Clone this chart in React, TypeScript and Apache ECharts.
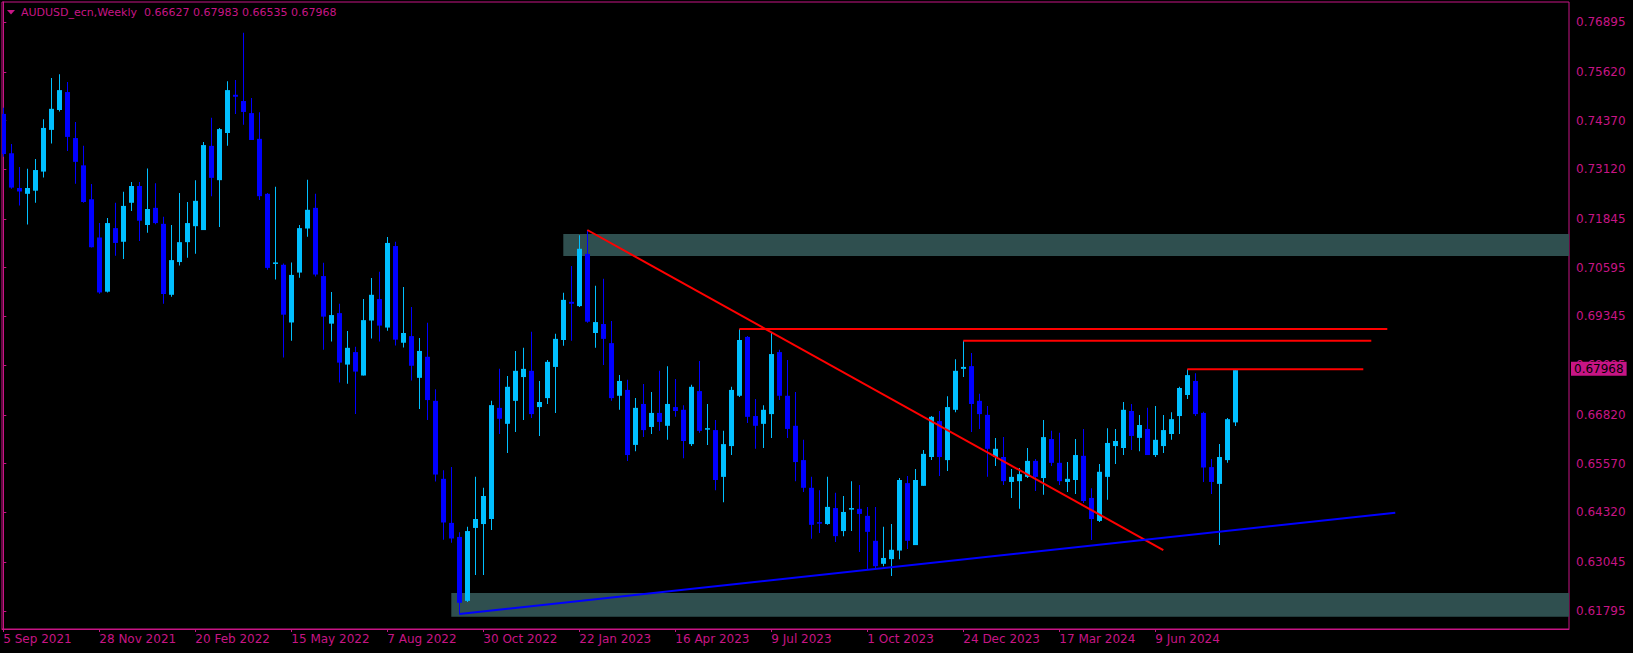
import React, { useEffect, useRef } from "react";
import * as echarts from "echarts";

// ---- data (weekly candles, first bar = 5 Sep 2021) ----
const OPEN = [
  0.7454, 0.7353, 0.7264, 0.7249, 0.7257, 0.7306, 0.7413, 0.7464, 0.7510, 0.7392,
  0.7322, 0.7235, 0.7137, 0.6998, 0.7161, 0.7126, 0.7226, 0.7269, 0.7169, 0.7213,
  0.7172, 0.6990, 0.7074, 0.7125, 0.7166, 0.7156, 0.7372, 0.7284, 0.7405, 0.7503,
  0.7487, 0.7456, 0.7390, 0.7249, 0.7070, 0.7067, 0.6919, 0.7047, 0.7160, 0.7213,
  0.7038, 0.6916, 0.6943, 0.6811, 0.6843, 0.6783, 0.6924, 0.6979, 0.6906, 0.7115,
  0.6867, 0.6884, 0.6777, 0.6831, 0.6718, 0.6518, 0.6405, 0.6369, 0.6205, 0.6392,
  0.6402, 0.6415, 0.6700, 0.6659, 0.6718, 0.6779, 0.6795, 0.6702, 0.6725, 0.6805,
  0.6874, 0.6972, 0.6961, 0.7095, 0.6892, 0.6915, 0.6866, 0.6731, 0.6746, 0.6605,
  0.6710, 0.6651, 0.6687, 0.6654, 0.6702, 0.6695, 0.6607, 0.6743, 0.6644, 0.6643,
  0.6523, 0.6602, 0.6731, 0.6882, 0.6679, 0.6659, 0.6684, 0.6843, 0.6731, 0.6654,
  0.6566, 0.6495, 0.6407, 0.6402, 0.6443, 0.6384, 0.6439, 0.6441, 0.6423, 0.6359,
  0.6300, 0.6312, 0.6334, 0.6507, 0.6348, 0.6500, 0.6574, 0.6666, 0.6566, 0.6695,
  0.6800, 0.6807, 0.6718, 0.6682, 0.6574, 0.6574, 0.6510, 0.6512, 0.6523, 0.6564,
  0.6520, 0.6620, 0.6559, 0.6510, 0.6515, 0.6577, 0.6469, 0.6410, 0.6523, 0.6602,
  0.6597, 0.6692, 0.6623, 0.6646, 0.6579, 0.6602, 0.6633, 0.6679, 0.6733, 0.6769,
  0.6687, 0.6548, 0.6505, 0.6566, 0.66627,
];
const HIGH = [
  0.7470, 0.7377, 0.7318, 0.7313, 0.7338, 0.7440, 0.7546, 0.7556, 0.7536, 0.7433,
  0.7372, 0.7274, 0.7174, 0.7187, 0.7226, 0.7254, 0.7279, 0.7279, 0.7314, 0.7276,
  0.7190, 0.7169, 0.7251, 0.7228, 0.7284, 0.7382, 0.7444, 0.7418, 0.7538, 0.7541,
  0.7662, 0.7495, 0.7458, 0.7251, 0.7267, 0.7070, 0.7073, 0.7169, 0.7285, 0.7249,
  0.7072, 0.6997, 0.6967, 0.6897, 0.6857, 0.6979, 0.7033, 0.7049, 0.7138, 0.7126,
  0.7010, 0.6959, 0.6879, 0.6918, 0.6748, 0.6540, 0.6548, 0.6381, 0.6395, 0.6523,
  0.6495, 0.6718, 0.6800, 0.6782, 0.6846, 0.6854, 0.6895, 0.6769, 0.6823, 0.6890,
  0.6995, 0.7064, 0.7143, 0.7156, 0.7013, 0.7031, 0.6923, 0.6784, 0.6772, 0.6725,
  0.6761, 0.6741, 0.6795, 0.6807, 0.6774, 0.6707, 0.6759, 0.6820, 0.6710, 0.6669,
  0.6641, 0.6754, 0.6902, 0.6884, 0.6723, 0.6707, 0.6892, 0.6849, 0.6823, 0.6741,
  0.6618, 0.6523, 0.6489, 0.6523, 0.6482, 0.6474, 0.6512, 0.6502, 0.6446, 0.6446,
  0.6395, 0.6402, 0.6520, 0.6525, 0.6543, 0.6592, 0.6679, 0.6692, 0.6730, 0.6825,
  0.6872, 0.6841, 0.6736, 0.6705, 0.6623, 0.6625, 0.6543, 0.6546, 0.6597, 0.6569,
  0.6669, 0.6641, 0.6636, 0.6561, 0.6620, 0.6646, 0.6494, 0.6556, 0.6648, 0.6646,
  0.6715, 0.6710, 0.6682, 0.6700, 0.6705, 0.6682, 0.6689, 0.6754, 0.6799, 0.6789,
  0.6690, 0.6569, 0.6607, 0.6674, 0.67983,
];
const LOW = [
  0.7344, 0.7262, 0.7219, 0.7170, 0.7226, 0.7291, 0.7378, 0.7460, 0.7359, 0.7275,
  0.7226, 0.7111, 0.6993, 0.6996, 0.7090, 0.7082, 0.7205, 0.7128, 0.7149, 0.7171,
  0.6967, 0.6985, 0.7065, 0.7085, 0.7095, 0.7156, 0.7243, 0.7164, 0.7372, 0.7454,
  0.7426, 0.7387, 0.7233, 0.7054, 0.7029, 0.6829, 0.6872, 0.7034, 0.7139, 0.7037,
  0.6849, 0.6870, 0.6765, 0.6762, 0.6684, 0.6783, 0.6878, 0.6870, 0.6898, 0.6860,
  0.6855, 0.6770, 0.6697, 0.6669, 0.6511, 0.6362, 0.6354, 0.6171, 0.6202, 0.6271,
  0.6271, 0.6387, 0.6633, 0.6584, 0.6638, 0.6669, 0.6674, 0.6628, 0.6710, 0.6687,
  0.6859, 0.6872, 0.6959, 0.6918, 0.6854, 0.6810, 0.6718, 0.6695, 0.6564, 0.6589,
  0.6625, 0.6633, 0.6641, 0.6618, 0.6677, 0.6571, 0.6602, 0.6636, 0.6605, 0.6489,
  0.6458, 0.6579, 0.6728, 0.6661, 0.6595, 0.6597, 0.6623, 0.6720, 0.6623, 0.6512,
  0.6484, 0.6364, 0.6379, 0.6400, 0.6356, 0.6371, 0.6384, 0.6330, 0.6284, 0.6288,
  0.6294, 0.6269, 0.6312, 0.6338, 0.6348, 0.6500, 0.6566, 0.6525, 0.6538, 0.6689,
  0.6779, 0.6638, 0.6646, 0.6523, 0.6551, 0.6502, 0.6469, 0.6441, 0.6520, 0.6487,
  0.6477, 0.6551, 0.6502, 0.6484, 0.6479, 0.6456, 0.6361, 0.6407, 0.6464, 0.6556,
  0.6579, 0.6592, 0.6589, 0.6579, 0.6574, 0.6584, 0.6618, 0.6633, 0.6723, 0.6679,
  0.6510, 0.6479, 0.6348, 0.6559, 0.66535,
];
const CLOSE = [
  0.7351, 0.7265, 0.7255, 0.7264, 0.7310, 0.7418, 0.7467, 0.7515, 0.7395, 0.7331,
  0.7228, 0.7112, 0.6996, 0.7174, 0.7123, 0.7218, 0.7269, 0.7180, 0.7210, 0.7174,
  0.6992, 0.7079, 0.7125, 0.7174, 0.7231, 0.7374, 0.7290, 0.7415, 0.7515, 0.7498,
  0.7459, 0.7387, 0.7243, 0.7059, 0.7073, 0.6939, 0.7041, 0.7161, 0.7208, 0.7042,
  0.6934, 0.6938, 0.6816, 0.6854, 0.6793, 0.6925, 0.6990, 0.6911, 0.7123, 0.6875,
  0.6892, 0.6808, 0.6846, 0.6720, 0.6529, 0.6406, 0.6365, 0.6200, 0.6384, 0.6415,
  0.6474, 0.6707, 0.6672, 0.6754, 0.6795, 0.6800, 0.6684, 0.6715, 0.6818, 0.6877,
  0.6977, 0.6967, 0.7108, 0.6921, 0.6920, 0.6877, 0.6725, 0.6769, 0.6579, 0.6700,
  0.6643, 0.6687, 0.6664, 0.6710, 0.6692, 0.6615, 0.6754, 0.6641, 0.6648, 0.6515,
  0.6607, 0.6746, 0.6874, 0.6677, 0.6654, 0.6695, 0.6838, 0.6731, 0.6646, 0.6561,
  0.6495, 0.6400, 0.6403, 0.6446, 0.6371, 0.6433, 0.6443, 0.6428, 0.6382, 0.6294,
  0.6315, 0.6336, 0.6515, 0.6359, 0.6515, 0.6582, 0.6677, 0.6574, 0.6702, 0.6795,
  0.6805, 0.6710, 0.6684, 0.6595, 0.6595, 0.6512, 0.6523, 0.6530, 0.6564, 0.6523,
  0.6625, 0.6559, 0.6512, 0.6518, 0.6579, 0.6461, 0.6415, 0.6536, 0.6610, 0.6615,
  0.6695, 0.6628, 0.6656, 0.6579, 0.6618, 0.6643, 0.6671, 0.6751, 0.6784, 0.6684,
  0.6547, 0.6510, 0.6574, 0.6671, 0.67968,
];

// x-axis tick labels: every 12th weekly bar
const X_TICKS = [0, 12, 24, 36, 48, 60, 72, 84, 96, 108, 120, 132, 144];
const X_LABELS = [
  "5 Sep 2021", "28 Nov 2021", "20 Feb 2022", "15 May 2022", "7 Aug 2022",
  "30 Oct 2022", "22 Jan 2023", "16 Apr 2023", "9 Jul 2023", "1 Oct 2023",
  "24 Dec 2023", "17 Mar 2024", "9 Jun 2024",
];
// y-axis price labels
const Y_TICKS = [
  0.61795, 0.63045, 0.6432, 0.6557, 0.6682, 0.68095, 0.69345, 0.70595,
  0.71845, 0.7312, 0.7437, 0.7562, 0.76895,
];

// zones: [startBar, top price, bottom price]
const ZONE_START = [70, 56];
const ZONE_TOP = [0.7146, 0.62252];
const ZONE_BOTTOM = [0.70895, 0.61644];

// trend lines: [bar1, price1, bar2, price2]
const RED_TREND = [73, 0.71562, 145, 0.63354];
const BLUE_TREND = [57, 0.6171, 174, 0.6431];
// horizontal resistance lines: [startBar, endBar, price]
const H_START = [92, 120, 148];
const H_END = [173, 171, 170];
const H_PRICE = [0.69023, 0.68723, 0.6799];

const SYMBOL = "AUDUSD_ecn,Weekly";

const PINK = "#C71585";
const BULL = "#00BFFF";
const BEAR = "#0000FF";
const ZONE = "#2F4F4F";
const FONT = "DejaVu Sans";

const XMIN = -0.1625;
const XMAX = XMIN + 1567 / 8;
const YMIN = 0.61328;
const YMAX = 0.7741;

export default function App() {
  const ref = useRef<HTMLDivElement>(null);

  useEffect(() => {
    if (!ref.current) return;
    const chart = echarts.init(ref.current, undefined, { renderer: "svg" });

    const candles = OPEN.map((o, i) => [i, o, CLOSE[i], LOW[i], HIGH[i]]);
    const zones = ZONE_START.map((s, k) => [s, XMAX, ZONE_TOP[k], ZONE_BOTTOM[k]]);
    const last = OPEN.length - 1;
    const title = `${SYMBOL}  ${OPEN[last].toFixed(5)} ${HIGH[last].toFixed(5)} ${LOW[last].toFixed(5)} ${CLOSE[last].toFixed(5)}`;

    const lineSeries = (data: number[][], color: string) => ({
      type: "line",
      data,
      symbol: "none",
      silent: true,
      z: 5,
      lineStyle: { color, width: 2 },
    });

    const option: any = {
      animation: false,
      backgroundColor: "#000000",
      grid: {
        left: 2,
        right: 64,
        top: 2,
        bottom: 24,
        show: true,
        borderColor: PINK,
        borderWidth: 1,
        backgroundColor: "#000000",
      },
      xAxis: {
        type: "value",
        min: XMIN,
        max: XMAX,
        axisLine: { show: true, lineStyle: { color: PINK, width: 1 } },
        axisTick: {
          show: true,
          customValues: X_TICKS,
          length: 3,
          lineStyle: { color: PINK },
        },
        axisLabel: {
          customValues: X_TICKS,
          formatter: (v: number) => X_LABELS[X_TICKS.indexOf(Math.round(v))] ?? "",
          color: PINK,
          fontFamily: FONT,
          fontSize: 12,
          align: "left",
          margin: 4,
        },
        splitLine: { show: false },
      },
      yAxis: {
        type: "value",
        position: "right",
        min: YMIN,
        max: YMAX,
        axisLine: { show: true, lineStyle: { color: PINK, width: 1 } },
        axisTick: {
          show: true,
          customValues: Y_TICKS,
          length: 3,
          lineStyle: { color: PINK },
        },
        axisLabel: {
          customValues: Y_TICKS,
          formatter: (v: number) => v.toFixed(5),
          color: PINK,
          fontFamily: FONT,
          fontSize: 12,
          margin: 7,
        },
        splitLine: { show: false },
      },
      series: [
        {
          type: "custom",
          name: "zones",
          z: 1,
          silent: true,
          data: zones,
          encode: { x: [0, 1], y: [2, 3] },
          renderItem: (_p: any, api: any) => {
            const a = api.coord([api.value(0), api.value(2)]);
            const b = api.coord([api.value(1), api.value(3)]);
            return {
              type: "rect",
              shape: { x: a[0], y: a[1], width: b[0] - a[0], height: b[1] - a[1] },
              style: { fill: ZONE },
            };
          },
        },
        {
          type: "custom",
          name: "candles",
          z: 3,
          silent: true,
          clip: true,
          data: candles,
          encode: { x: 0, y: [1, 2, 3, 4] },
          renderItem: (_p: any, api: any) => {
            const i = api.value(0);
            const o = api.value(1);
            const c = api.value(2);
            const l = api.value(3);
            const h = api.value(4);
            const pO = api.coord([i, o]);
            const yC = api.coord([i, c])[1];
            const yL = api.coord([i, l])[1];
            const yH = api.coord([i, h])[1];
            const color = c >= o ? BULL : BEAR;
            const cx = Math.round(pO[0]);
            const top = Math.min(pO[1], yC);
            let bh = Math.abs(pO[1] - yC);
            if (bh < 1.5) bh = 1.5;
            return {
              type: "group",
              children: [
                {
                  type: "rect",
                  shape: { x: cx, y: yH, width: 1, height: Math.max(1, yL - yH) },
                  style: { fill: color },
                },
                {
                  type: "rect",
                  shape: { x: cx - 2, y: top, width: 5, height: bh },
                  style: { fill: color },
                },
              ],
            };
          },
          markLine: {
            silent: true,
            symbol: "none",
            lineStyle: { color: "transparent", width: 0 },
            data: [{ yAxis: CLOSE[last] }],
            label: {
              show: true,
              position: "end",
              distance: 2,
              formatter: CLOSE[last].toFixed(5),
              backgroundColor: PINK,
              color: "#000000",
              fontFamily: FONT,
              fontSize: 12,
              lineHeight: 12,
              padding: [1, 3, 1, 3],
            },
          },
        },
        lineSeries(
          [
            [RED_TREND[0], RED_TREND[1]],
            [RED_TREND[2], RED_TREND[3]],
          ],
          "#FF0000"
        ),
        lineSeries(
          [
            [BLUE_TREND[0], BLUE_TREND[1]],
            [BLUE_TREND[2], BLUE_TREND[3]],
          ],
          "#0000FF"
        ),
        ...H_PRICE.map((p, k) =>
          lineSeries(
            [
              [H_START[k], p],
              [H_END[k], p],
            ],
            "#FF0000"
          )
        ),
      ],
      graphic: [
        {
          type: "polygon",
          shape: { points: [[7, 10], [15, 10], [11, 14.5]] },
          style: { fill: PINK },
        },
        {
          type: "text",
          x: 21,
          y: 12,
          style: {
            text: title,
            fill: PINK,
            font: `11px "${FONT}"`,
            textVerticalAlign: "middle",
          },
        },
      ],
    };

    chart.setOption(option);
    return () => chart.dispose();
  }, []);

  return (
    <div
      ref={ref}
      style={{
        position: "fixed",
        left: 0,
        top: 0,
        width: 1633,
        height: 653,
        background: "#000000",
      }}
    />
  );
}
